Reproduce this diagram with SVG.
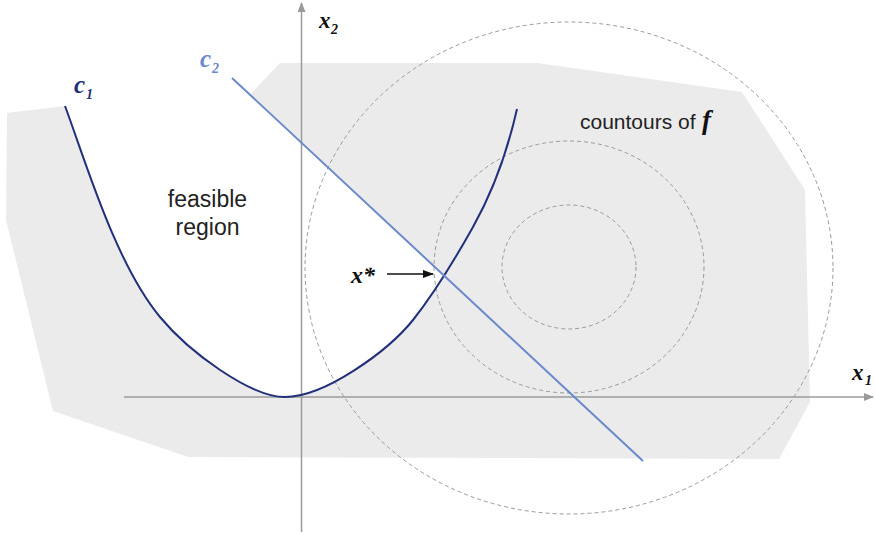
<svg xmlns="http://www.w3.org/2000/svg" width="875" height="534" viewBox="0 0 875 534">
<style>
.axis{stroke:#9b9b9b;stroke-width:1.5;fill:none}
.contour{fill:none;stroke:#9a9a9a;stroke-width:1;stroke-dasharray:4 3}
.math{font-family:"Liberation Serif","DejaVu Serif",serif;font-style:italic;font-weight:bold}
.lbl{font-family:"Liberation Sans",Arial,sans-serif;fill:#222}
.c1{fill:none;stroke:#22307c;stroke-width:2}
.c2{fill:none;stroke:#6a89cc;stroke-width:2}
</style>
<defs>
<marker id="axhead" markerWidth="10" markerHeight="8" refX="9" refY="4" orient="auto" markerUnits="userSpaceOnUse"><path d="M0,0 L10,4 L0,8 Z" fill="#9b9b9b"/></marker>
<marker id="arrhead" markerWidth="11" markerHeight="8" refX="10" refY="4" orient="auto" markerUnits="userSpaceOnUse"><path d="M0,0 L11,4 L0,8 Z" fill="#111"/></marker>
<clipPath id="feasClip"><path d="M148.3,0 L721,534 L0,534 L0,0 Z"/></clipPath>
</defs>
<g id="infeasible-region">
<path d="M7,113 L65,106 L245,100 L280,63 L537,63 L742,92 L805,190 L810,402 L779,459 L188,457 L53,411 L6,220 Z" fill="#ebebeb"/>
</g>
<g id="feasible-region">
<path clip-path="url(#feasClip)" fill="#ffffff" d="M65,106 C86,162.4 115.4,263 160,317 C188.7,351.7 250,397 285,397 C325,397 388,351 413,320 C434.7,292.5 455.9,257.5 473,227 C492.6,192 508.2,148 517,109 L517,30 L65,30 Z"/>
<text class="lbl" x="207.5" y="207" font-size="23" text-anchor="middle">feasible</text>
<text class="lbl" x="207.5" y="235" font-size="23" text-anchor="middle">region</text>
</g>
<g id="contours">
<ellipse class="contour" cx="569" cy="267" rx="67" ry="62"/>
<ellipse class="contour" cx="569" cy="267" rx="135" ry="126"/>
<ellipse class="contour" cx="569" cy="268" rx="264" ry="246"/>
<text class="lbl" x="580" y="129" font-size="21">countours of</text>
<text class="math" x="702" y="129" font-size="27" fill="#111">f</text>
</g>
<g id="axes">
<path class="axis" d="M301.5,532 L301.5,3" marker-end="url(#axhead)"/>
<path class="axis" d="M124,397 L873,397" marker-end="url(#axhead)"/>
<text class="math" x="319" y="28" font-size="23" fill="#111">x</text>
<text class="math" x="331" y="34" font-size="14" fill="#111">2</text>
<text class="math" x="852" y="380" font-size="23" fill="#111">x</text>
<text class="math" x="865" y="385" font-size="14" fill="#111">1</text>
</g>
<g id="c1">
<path class="c1" d="M65,106 C86,162.4 115.4,263 160,317 C188.7,351.7 250,397 285,397 C325,397 388,351 413,320 C434.7,292.5 455.9,257.5 473,227 C492.6,192 508.2,148 517,109"/>
<text class="math" x="74" y="93" font-size="25" fill="#22307c">c</text>
<text class="math" x="86" y="99" font-size="14" fill="#22307c">1</text>
</g>
<g id="c2">
<path class="c2" d="M232,78 L643,461"/>
<text class="math" x="200" y="67" font-size="25" fill="#6a89cc">c</text>
<text class="math" x="212" y="73" font-size="14" fill="#6a89cc">2</text>
</g>
<g id="connectors">
<path d="M387,274 L433,274" stroke="#111" stroke-width="1.5" fill="none" marker-end="url(#arrhead)"/>
</g>
<g id="optimum">
<text class="math" x="351" y="283" font-size="24" fill="#111">x*</text>
</g>
</svg>
